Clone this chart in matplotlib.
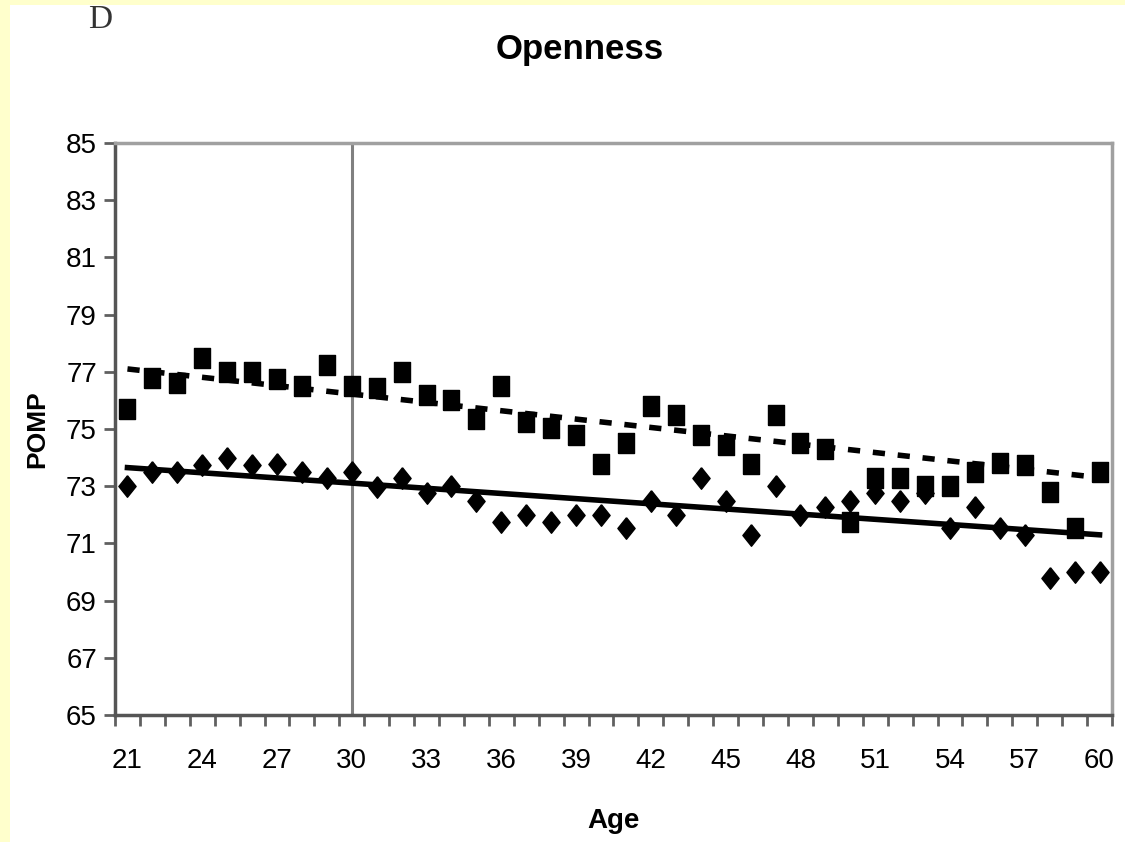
import numpy as np
from matplotlib import pyplot as plt
from matplotlib.patches import Rectangle

# ages 21..60 and the two POMP series
ages = np.arange(21, 61)
upper = [75.7, 76.8, 76.6, 77.5, 77.0, 77.0, 76.75, 76.5, 77.25, 76.5,
         76.45, 77.0, 76.2, 76.0, 75.35, 76.5, 75.25, 75.05, 74.8, 73.77,
         74.5, 75.8, 75.5, 74.8, 74.45, 73.77, 75.5, 74.5, 74.3, 71.75,
         73.3, 73.3, 73.0, 73.0, 73.5, 73.8, 73.73, 72.8, 71.55, 73.5]
lower = [73.0, 73.5, 73.5, 73.73, 74.0, 73.73, 73.77, 73.5, 73.27, 73.5,
         72.97, 73.3, 72.77, 73.0, 72.5, 71.75, 72.0, 71.75, 72.0, 72.0,
         71.55, 72.5, 72.0, 73.27, 72.5, 71.3, 73.0, 72.0, 72.27, 72.5,
         72.75, 72.5, 72.75, 71.55, 72.27, 71.55, 71.3, 69.8, 70.0, 70.0]
# linear trend lines, values at age 21 and age 60 as drawn in the figure
trend_ages = [21, 60]
trend_upper = [77.1, 73.3]
trend_lower = [73.65, 71.3]
xlabels = list(range(21, 61, 3))
yticks = list(range(65, 86, 2))
cutoff_age = 30

plt.rcParams['font.family'] = ['Liberation Sans', 'DejaVu Sans']

W, H = 1125, 842
fig = plt.figure(figsize=(W / 100, H / 100), dpi=100, facecolor='#FFFFCC')
# white panel, yellow strip left and top
fig.patches.append(Rectangle((10 / W, 0), 1, 1 - 5 / H, transform=fig.transFigure,
                             facecolor='white', edgecolor='none', zorder=-10))

ax = fig.add_axes([115 / W, 1 - 715 / H, (1112 - 115) / W, (715 - 143) / H])
ax.set_facecolor('white')

ax.plot(trend_ages, trend_upper, color='black', lw=4, dashes=(2.2, 2.3),
        dash_capstyle='butt', zorder=2)
ax.plot(trend_ages, trend_lower, color='black', lw=4, zorder=2)

sq = [(-0.8, -1), (0.8, -1), (0.8, 1), (-0.8, 1), (-0.8, -1)]
dia = [(0, 1), (0.8, 0), (0, -1), (-0.8, 0), (0, 1)]
ax.plot(ages, upper, linestyle='none', marker=sq, markersize=15,
        color='black', zorder=3)
ax.plot(ages, lower, linestyle='none', marker=dia, markersize=15.5,
        color='black', zorder=3)

ax.axvline(cutoff_age, color='#808080', lw=2.2, zorder=1)

ax.set_xlim(20.5, 60.5)
ax.set_ylim(65, 85)
ax.set_yticks(yticks)
ax.set_xticks(xlabels)
ax.set_xticks(np.arange(20.5, 61, 1), minor=True)
ax.tick_params(axis='x', which='major', length=0, pad=24, labelsize=20)
ax.tick_params(axis='x', which='minor', length=8, width=2, color='#606060',
               direction='out')
ax.tick_params(axis='y', length=8, width=2, color='#606060', pad=5,
               labelsize=20)

for s in ['top', 'right']:
    ax.spines[s].set_color('#a0a0a0')
    ax.spines[s].set_linewidth(2.5)
for s in ['left', 'bottom']:
    ax.spines[s].set_color('#555555')
    ax.spines[s].set_linewidth(2.5)

ax.set_xlabel('Age', fontsize=20, fontweight='bold', labelpad=24)
ax.set_ylabel('POMP', fontsize=19, fontweight='bold', labelpad=12)

fig.text(580 / W, 1 - 50 / H, 'Openness', fontsize=25, fontweight='bold',
         ha='center', va='center')
fig.text(100 / W, 1 - 20 / H, 'D', fontsize=24, family='Liberation Serif',
         color='#333333', ha='center', va='center')

fig.savefig('out.png', dpi=100, facecolor=fig.get_facecolor())
